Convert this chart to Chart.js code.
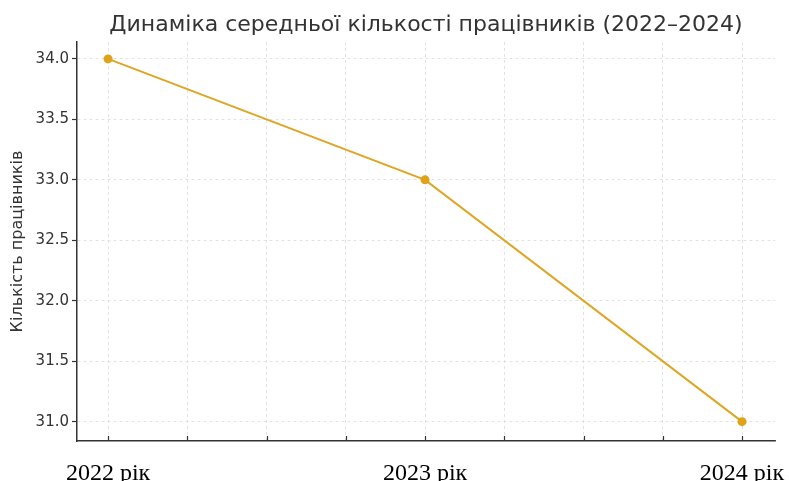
<!DOCTYPE html>
<html>
<head>
<meta charset="utf-8">
<script src="https://cdn.jsdelivr.net/npm/chart.js@4"></script>
<style>
  html, body { margin: 0; padding: 0; background: #fff; }
  #wrap { width: 789px; height: 481px; }
</style>
</head>
<body>
<div id="wrap"><canvas id="c" width="789" height="481"></canvas></div>
<script>
// Average headcount by year
const years = [2022, 2023, 2024];
const headcount = [34.0, 33.0, 31.0];
const yearLabels = ['2022 рік', '2023 рік', '2024 рік'];
const yTicks = [31.0, 31.5, 32.0, 32.5, 33.0, 33.5, 34.0];
const xTicks = [2022, 2022.25, 2022.5, 2022.75, 2023, 2023.25, 2023.5, 2023.75, 2024];
const chartTitle = 'Динаміка середньої кількості працівників (2022–2024)';

const lineColor = '#DEA623';
const pointColor = '#E0A218';
const axisColor = '#333333';
const gridColor = '#dcdcdc';

// Title centred over the plot area, plus x tick marks pointing into the plot
const decorations = {
  id: 'decorations',
  afterDraw(chart) {
    const ctx = chart.ctx;
    const area = chart.chartArea;
    const x = chart.scales.x;
    ctx.save();
    ctx.strokeStyle = axisColor;
    ctx.lineWidth = 1.2;
    x.ticks.forEach(t => {
      const px = Math.round(x.getPixelForValue(t.value)) + 0.5;
      ctx.beginPath();
      ctx.moveTo(px, area.bottom);
      ctx.lineTo(px, area.bottom - 5);
      ctx.stroke();
    });
    ctx.fillStyle = '#333';
    ctx.font = '22px "DejaVu Sans"';
    ctx.textAlign = 'center';
    ctx.textBaseline = 'middle';
    ctx.fillText(chartTitle, (area.left + area.right) / 2, 25);
    ctx.restore();
  }
};

new Chart(document.getElementById('c'), {
  type: 'line',
  data: {
    datasets: [{
      data: years.map((y, i) => ({ x: y, y: headcount[i] })),
      borderColor: lineColor,
      backgroundColor: pointColor,
      borderWidth: 2,
      pointRadius: 4.5,
      pointHoverRadius: 4.5,
      pointBackgroundColor: pointColor,
      pointBorderColor: pointColor,
      pointBorderWidth: 0,
      tension: 0
    }]
  },
  options: {
    responsive: false,
    animation: false,
    devicePixelRatio: 1,
    layout: { padding: { left: 0, right: 14, top: 42, bottom: 0 } },
    plugins: {
      legend: { display: false },
      tooltip: { enabled: false },
      title: { display: false }
    },
    scales: {
      x: {
        type: 'linear',
        min: 2021.902,
        max: 2024.104,
        afterBuildTicks(scale) { scale.ticks = xTicks.map(v => ({ value: v })); },
        afterFit(scale) {
          scale.height = 40;
          scale.paddingLeft = 0;
          scale.paddingRight = 0;
        },
        grid: {
          color: gridColor,
          lineWidth: 0.8,
          drawTicks: false
        },
        border: { display: true, color: axisColor, width: 1.5, dash: [3, 3] },
        ticks: {
          autoSkip: false,
          maxRotation: 0,
          padding: 18,
          color: '#000',
          font: { family: 'Liberation Serif', size: 24 },
          callback(v) {
            const i = years.indexOf(v);
            return i >= 0 ? yearLabels[i] : '';
          }
        }
      },
      y: {
        min: 30.84,
        max: 34.14,
        afterBuildTicks(scale) { scale.ticks = yTicks.map(v => ({ value: v })); },
        afterFit(scale) {
          scale.width = 77;
          scale.paddingTop = 0;
          scale.paddingBottom = 0;
        },
        grid: {
          color: gridColor,
          lineWidth: 0.8,
          drawTicks: true,
          tickLength: 5,
          tickColor: axisColor,
          tickWidth: 1.2,
          tickBorderDash: []
        },
        border: { display: true, color: axisColor, width: 1.5, dash: [3, 3] },
        title: {
          display: true,
          text: 'Кількість працівників',
          color: '#333',
          font: { family: 'DejaVu Sans', size: 16 },
          padding: { top: 8, bottom: 0 }
        },
        ticks: {
          padding: 3,
          color: '#333',
          font: { family: 'DejaVu Sans', size: 15 },
          callback(v) { return v.toFixed(1); }
        }
      }
    }
  },
  plugins: [decorations]
});
</script>
</body>
</html>
